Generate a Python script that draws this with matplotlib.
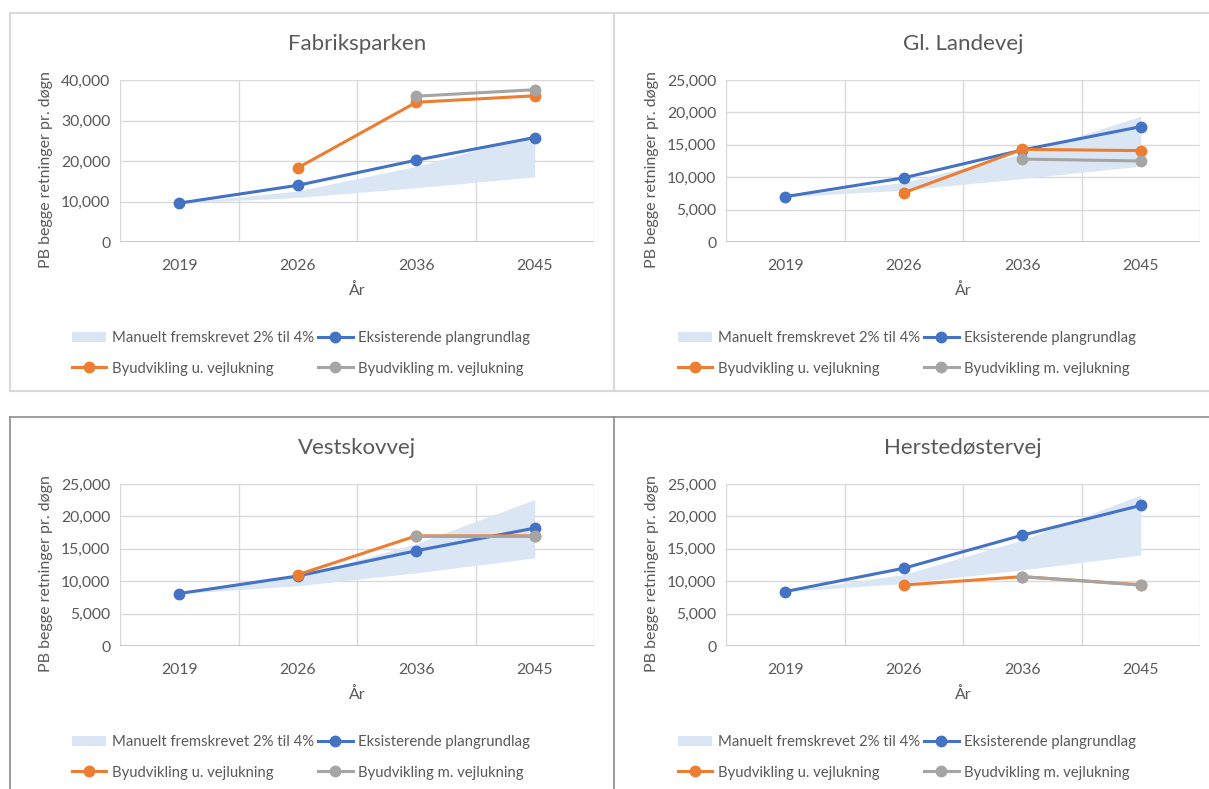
import matplotlib
matplotlib.use("Agg")
import matplotlib.pyplot as plt
from matplotlib.lines import Line2D
from matplotlib.patches import Patch
from matplotlib.ticker import FuncFormatter

plt.rcParams['font.family'] = ['Lato', 'DejaVu Sans']

# kategorier på x-aksen
years = ["2019", "2026", "2036", "2045"]

# Fabriksparken
fab_band_lo = [9600, 11000, 13400, 16100]
fab_band_hi = [9600, 12600, 18700, 26500]
fab_eksist = [9600, 14000, 20200, 25800]
fab_u_luk = [None, 18300, 34500, 36100]
fab_m_luk = [None, None, 36000, 37600]

# Gl. Landevej
gl_band_lo = [7000, 8000, 9800, 11700]
gl_band_hi = [7000, 9200, 13600, 19400]
gl_eksist = [7000, 9900, 14200, 17800]
gl_u_luk = [None, 7600, 14300, 14100]
gl_m_luk = [None, None, 12800, 12500]

# Vestskovvej
vest_band_lo = [8100, 9300, 11300, 13600]
vest_band_hi = [8100, 10700, 15800, 22600]
vest_eksist = [8100, 10800, 14700, 18200]
vest_u_luk = [None, 11000, 17000, 17000]
vest_m_luk = [None, None, 17000, 17000]

# Herstedøstervej
her_band_lo = [8400, 9650, 11750, 14050]
her_band_hi = [8400, 11050, 16350, 23300]
her_eksist = [8400, 12000, 17100, 21700]
her_u_luk = [None, 9400, 10700, 9450]
her_m_luk = [None, None, 10700, 9400]

BLUE = "#4472C4"
ORANGE = "#ED7D31"
GREY = "#A5A5A5"
BAND = "#DAE6F4"
TXT = "#595959"
GRID = "#D9D9D9"

W, H = 1209, 789
fig = plt.figure(figsize=(W / 100, H / 100), dpi=100)


def fx(x):
    return x / W


def fy(y):
    return 1 - y / H


def fig_line(xs, ys, color, lw):
    fig.add_artist(Line2D([fx(v) for v in xs], [fy(v) for v in ys],
                          transform=fig.transFigure, color=color, lw=lw))


# rammer om de fire diagrammer
fig_line([10, 1209], [13, 13], "#D9D9D9", 1.5)
fig_line([10, 1209], [391, 391], "#D9D9D9", 1.5)
fig_line([10, 10], [13, 391], "#D9D9D9", 1.5)
fig_line([614, 614], [13, 391], "#D9D9D9", 1.5)
fig_line([10, 1209], [417, 417], "#8C8C8C", 1.2)
fig_line([10, 10], [417, 789], "#8C8C8C", 1.2)
fig_line([614, 614], [417, 789], "#8C8C8C", 1.2)


def panel(left, top, title, ymax, ystep, lo, hi, eksist, u_luk, m_luk):
    right, bottom = left + 474, top + 162
    ax = fig.add_axes([fx(left), fy(bottom), (right - left) / W, (bottom - top) / H])
    x = list(range(len(years)))

    ax.fill_between(x, lo, hi, color=BAND, lw=0, zorder=2)
    ax.plot(x, eksist, color=BLUE, lw=2.2, marker="o", ms=7.5, zorder=3)
    xu = [i for i, v in enumerate(u_luk) if v is not None]
    ax.plot(xu, [u_luk[i] for i in xu], color=ORANGE, lw=2.2, marker="o", ms=7.5, zorder=4)
    xm = [i for i, v in enumerate(m_luk) if v is not None]
    ax.plot(xm, [m_luk[i] for i in xm], color=GREY, lw=2.2, marker="o", ms=7.5, zorder=5)

    ax.set_xlim(-0.5, len(years) - 0.5)
    ax.set_ylim(0, ymax)
    ax.set_xticks(x)
    ax.set_xticklabels(years)
    ax.set_yticks(range(0, ymax + 1, ystep))
    ax.yaxis.set_major_formatter(FuncFormatter(lambda v, p: f"{int(v):,}"))
    ax.tick_params(length=0, labelsize=11.3, colors=TXT)
    ax.tick_params(axis="x", pad=12)
    ax.tick_params(axis="y", pad=7)

    # gitterlinjer: vandret ved hver værdi, lodret mellem kategorierne
    for yv in range(ystep, ymax + 1, ystep):
        ax.axhline(yv, color=GRID, lw=1.0, zorder=1)
    for xv in [k - 0.5 for k in range(len(years) + 1)]:
        ax.axvline(xv, color=GRID, lw=1.0, zorder=1)
    for s in ax.spines.values():
        s.set_visible(False)
    ax.axhline(0, color="#BFBFBF", lw=1.2, zorder=1)

    cx = (left + right) / 2
    fig.text(fx(cx), fy(top - 36), title, ha="center", va="center", fontsize=16, color=TXT)
    fig.text(fx(cx), fy(bottom + 49), "År", ha="center", va="center", fontsize=11.5, color=TXT)
    fig.text(fx(left - 74), fy(top + 90), "PB begge retninger pr. døgn", rotation=90,
             ha="center", va="center", fontsize=11.5, color=TXT)

    handles = [
        Patch(facecolor=BAND, edgecolor="none"),
        Line2D([], [], color=ORANGE, lw=2.2, marker="o", ms=7.5),
        Line2D([], [], color=BLUE, lw=2.2, marker="o", ms=7.5),
        Line2D([], [], color=GREY, lw=2.2, marker="o", ms=7.5),
    ]
    labels = ["Manuelt fremskrevet 2% til 4%", "Byudvikling u. vejlukning",
              "Eksisterende plangrundlag", "Byudvikling m. vejlukning"]
    ax.legend(handles, labels, ncol=2, loc="upper left",
              bbox_to_anchor=(fx(left - 48), fy(bottom + 89)), bbox_transform=fig.transFigure,
              frameon=False, fontsize=10.75, labelcolor=TXT, handlelength=2.3,
              handletextpad=0.35, columnspacing=0.3, labelspacing=1.12,
              borderpad=0, borderaxespad=0)
    return ax


panel(120, 80, "Fabriksparken", 40000, 10000, fab_band_lo, fab_band_hi, fab_eksist, fab_u_luk, fab_m_luk)
panel(726, 80, "Gl. Landevej", 25000, 5000, gl_band_lo, gl_band_hi, gl_eksist, gl_u_luk, gl_m_luk)
panel(120, 484, "Vestskovvej", 25000, 5000, vest_band_lo, vest_band_hi, vest_eksist, vest_u_luk, vest_m_luk)
panel(726, 484, "Herstedøstervej", 25000, 5000, her_band_lo, her_band_hi, her_eksist, her_u_luk, her_m_luk)

fig.savefig("out.png", dpi=100)
